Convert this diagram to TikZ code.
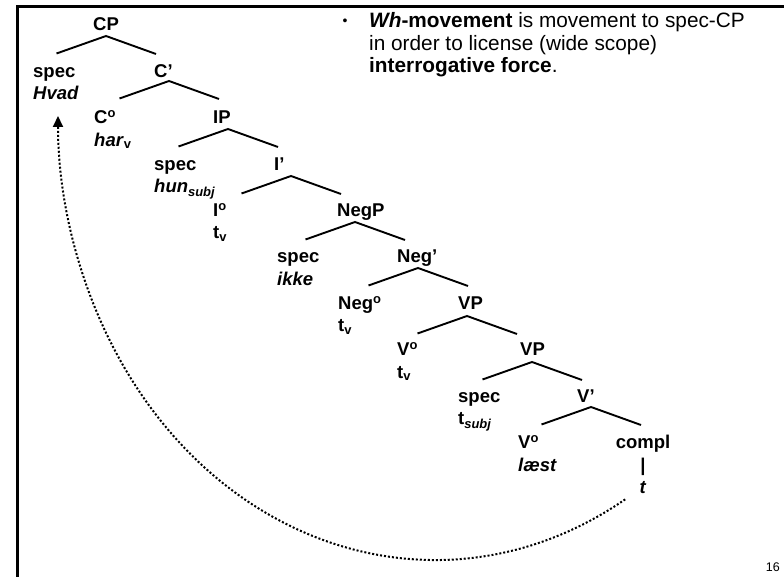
\documentclass[tikz,border=0pt]{standalone}
\usepackage{fontspec}
\setmainfont{Liberation Sans}
\usetikzlibrary{arrows.meta,calc}
\begin{document}
\begin{tikzpicture}[x=1pt,y=-1pt,
  lbl/.style={anchor=base west, inner sep=0pt, align=left,
    font=\bfseries\fontsize{18.5}{22.4}\selectfont},
  branch/.style={line width=1.9pt},
  frameline/.style={line width=2.6pt},
  movement/.style={line width=2pt, dash pattern=on 2pt off 2pt,
    -{Triangle[length=11pt,width=10pt]}}]
\useasboundingbox (0,0) rectangle (784,577);

% slide frame
\draw[frameline] (784,6.5) -- (17.5,6.5) -- (17.5,577);

% bullet point (multi-line nodes sit on the baseline of their last line)
\node[anchor=base, inner sep=0pt, font=\fontsize{14}{14}\selectfont] (dot) at (345,25.5) {•};
\node[anchor=base west, inner sep=0pt, align=left,
  font=\fontsize{20.8}{22.6}\selectfont] (point) at (369,72.7)
  {\textbf{\textit{Wh}-movement} is movement to spec-CP\\
   in order to license (wide scope)\\
   \textbf{interrogative force}.};

% tree labels; row baselines step by 46.4, second lines 22.4 lower
\node[lbl] (cp)       at (93,31)     {CP};
\node[lbl] (spec-c)   at (33,99.8)   {spec\\\textit{Hvad}};
\node[lbl] (cbar)     at (154,77.4)  {C’};
\node[lbl] (c-head)   at (94,146.2)  {C\textsuperscript{o}\\\textit{har}\textsubscript{v}};
\node[lbl] (ip)       at (213,123.8) {IP};
\node[lbl] (spec-i)   at (154,192.6) {spec\\\textit{hun}\textsubscript{\textit{subj}}};
\node[lbl] (ibar)     at (274,170.2) {I’};
\node[lbl] (i-head)   at (213,239)   {I\textsuperscript{o}\\t\textsubscript{v}};
\node[lbl] (negp)     at (337,216.6) {NegP};
\node[lbl] (spec-neg) at (277,285.4) {spec\\\textit{ikke}};
\node[lbl] (negbar)   at (397,263)   {Neg’};
\node[lbl] (neg-head) at (338,331.8) {Neg\textsuperscript{o}\\t\textsubscript{v}};
\node[lbl] (vp-top)   at (458,309.4) {VP};
\node[lbl] (v-head1)  at (397,378.2) {V\textsuperscript{o}\\t\textsubscript{v}};
\node[lbl] (vp-low)   at (520,355.8) {VP};
\node[lbl] (spec-v)   at (458,424.6) {spec\\t\textsubscript{\textit{subj}}};
\node[lbl] (vbar)     at (577,402.2) {V’};
\node[lbl] (v-head2)  at (518,471)   {V\textsuperscript{o}\\\textit{læst}};
\node[lbl, anchor=base, align=center] (compl) at (643,493.4) {compl\\|\\\textit{t}};

% page number
\node[anchor=base east, inner sep=0pt, font=\fontsize{12.5}{12.5}\selectfont] (pagenum) at (780,571) {16};

% branches under each phrase label
\foreach \n/\x/\y in {cp/106/36, cbar/169/81, ip/228/129, ibar/291/176,
    negp/355/222, negbar/418/268, vp-top/467/316, vp-low/532/362, vbar/591/407}{
  \coordinate (\n-apex) at (\x,\y);
  \draw[branch] ($(\n-apex)+(-49.5,17.5)$) -- (\n-apex) -- ($(\n-apex)+(50,18)$);
}

% movement of the wh-word from the complement trace to spec-CP
\coordinate (pivot) at (435,116);
\coordinate (trace-foot) at ($(pivot)+(59.7:377 and 444)$);
\draw[movement] (trace-foot) arc[start angle=59.7, end angle=180, x radius=377, y radius=444];
\end{tikzpicture}
\end{document}
